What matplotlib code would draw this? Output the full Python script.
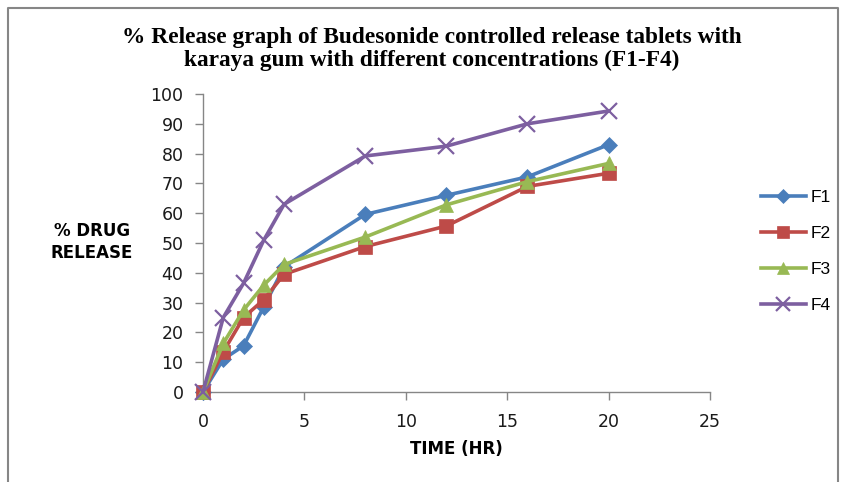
import matplotlib
matplotlib.use("Agg")
import matplotlib.pyplot as plt
from matplotlib.lines import Line2D

# time points (hr) and % drug release for each formulation
time_hr = [0, 1, 2, 3, 4, 8, 12, 16, 20]
f1 = [0, 11, 15.5, 28.6, 42, 59.6, 66, 72.2, 83]
f2 = [0, 13.5, 25, 31, 39.5, 48.8, 55.7, 69, 73.4]
f3 = [0, 16.3, 27.5, 35.9, 42.8, 52, 62.8, 70.6, 76.7]
f4 = [0, 25, 36.5, 51, 63, 79.2, 82.5, 90, 94.3]

labels = ["F1", "F2", "F3", "F4"]
colors = ["#4A7EBB", "#BE4B48", "#98B954", "#7D5FA0"]
markers = ["D", "s", "^", "x"]
msizes = [8, 9.5, 10, 11]

W, H = 843, 482
fig = plt.figure(figsize=(W / 100, H / 100), dpi=100)
ax = fig.add_axes([203 / W, 90 / H, (710 - 203) / W, (392 - 94) / H])

for ys, lab, c, m, ms in zip([f1, f2, f3, f4], labels, colors, markers, msizes):
    ax.plot(time_hr, ys, color=c, lw=2.6, marker=m, ms=ms, mew=1.6 if m == "x" else 0.5,
            mec=c, mfc=c, label=lab, clip_on=False, zorder=3)

ax.set_xlim(0, 25)
ax.set_ylim(0, 100)
ax.set_xticks(range(0, 26, 5))
ax.set_yticks(range(0, 101, 10))
for s in ["top", "right"]:
    ax.spines[s].set_visible(False)
for s in ["left", "bottom"]:
    ax.spines[s].set_color("#868686")
    ax.spines[s].set_linewidth(1)
ax.tick_params(direction="out", length=6, width=1, color="#868686",
               labelsize=12.5, labelcolor="#1a1a1a", pad=8)
ax.tick_params(axis="x", pad=9)
for t in ax.get_xticklabels() + ax.get_yticklabels():
    t.set_family("DejaVu Sans")

fig.text(456 / W, 1 - 449 / H, "TIME (HR)", ha="center", va="center",
         fontsize=12, fontweight="bold", family="DejaVu Sans")
fig.text(92 / W, 1 - 242 / H, "% DRUG\nRELEASE", ha="center", va="center",
         fontsize=12, fontweight="bold", family="DejaVu Sans", linespacing=1.35)

fig.text(432 / W, 1 - 49 / H,
         "% Release graph of Budesonide controlled release tablets with\n"
         "karaya gum with different concentrations (F1-F4)",
         ha="center", va="center", fontsize=16.8, fontweight="bold",
         family="Liberation Serif", linespacing=1.15)

handles = [Line2D([], [], color=c, lw=2.6, marker=m, ms=ms * 0.9,
                  mew=1.6 if m == "x" else 0.5, mec=c, mfc=c)
           for c, m, ms in zip(colors, markers, msizes)]
fig.legend(handles, labels, loc="upper left", bbox_to_anchor=(745 / W, 1 - 174 / H),
           frameon=False, handlelength=2.6, handletextpad=0.3, labelspacing=1.2,
           prop={"family": "Liberation Sans", "size": 12.5})

# outer chart border
fig.add_artist(Line2D([8 / W, 8 / W, 838 / W, 838 / W],
                      [0, 1 - 8 / H, 1 - 8 / H, 0], color="#868686", lw=1.5,
                      transform=fig.transFigure))

fig.savefig("out.png", dpi=100)
